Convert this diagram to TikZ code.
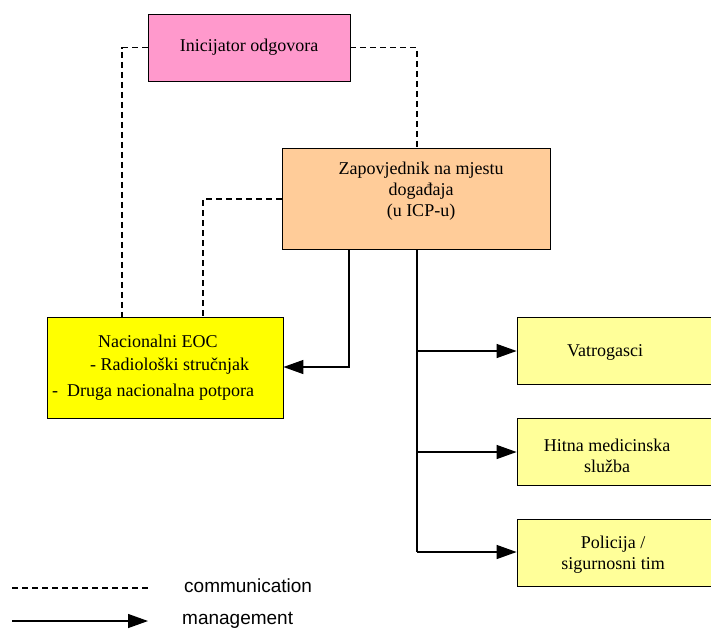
\documentclass[tikz,border=0pt]{standalone}
\usepackage{fontspec}
\setmainfont{Liberation Serif}
\newfontfamily\legendfont{Liberation Sans}
\usetikzlibrary{arrows.meta}
\definecolor{initpink}{HTML}{FF99CC}
\definecolor{cmdorange}{HTML}{FFCC99}
\definecolor{eocyellow}{HTML}{FFFF00}
\definecolor{teamyellow}{HTML}{FFFF99}
\tikzset{
  box/.style={draw=black, line width=0.8pt, inner sep=0pt, align=center, font=\fontsize{18}{21}\selectfont},
  boxtext/.style={inner sep=0pt, font=\fontsize{18}{21}\selectfont},
  comm/.style={draw=black, line width=1.3pt, dash pattern=on 6pt off 4pt},
  mgmt/.style={draw=black, line width=1.3pt, -{Triangle[length=20pt,width=14pt]}},
  legendtext/.style={inner sep=0pt, anchor=west, font=\legendfont\fontsize{19}{21}\selectfont}
}
\begin{document}
\begin{tikzpicture}[x=1pt, y=-1pt]
\path[use as bounding box, clip] (0,0) rectangle (711,630);
\fill[white] (0,0) rectangle (711,630);

% boxes
\node[box, fill=initpink, minimum width=202, minimum height=67] (init) at (249,47.5) {Inicijator odgovora};
\node[box, fill=cmdorange, minimum width=268, minimum height=101] (cmd) at (416,198.5) {};
\node[boxtext, align=center] (cmdtext) at (421,191) {Zapovjednik na mjestu\\događaja\\(u ICP-u)};
\node[box, fill=eocyellow, minimum width=236, minimum height=101] (eoc) at (165,367.5) {};
\node[boxtext, anchor=west] (eoc1) at (98,341) {Nacionalni EOC};
\node[boxtext, anchor=west] (eoc2) at (90,366) {- Radiološki stručnjak};
\node[boxtext, anchor=west] (eoc3) at (52,392) {- \ Druga nacionalna potpora};
\node[box, fill=teamyellow, minimum width=220, minimum height=67] (fire) at (627,350.5) {};
\node[boxtext] (firetext) at (605,352) {Vatrogasci};
\node[box, fill=teamyellow, minimum width=220, minimum height=67] (ems) at (627,451.5) {};
\node[boxtext, align=center] (emstext) at (607,456) {Hitna medicinska\\služba};
\node[box, fill=teamyellow, minimum width=220, minimum height=67] (police) at (627,552.5) {};
\node[boxtext, align=center] (policetext) at (613,555) {Policija /\\sigurnosni tim};

% communication links
\draw[comm] (init.west) -| (eoc.north -| 122,0);
\draw[comm] (init.east) -| (cmd.north -| 417,0);
\draw[comm] (cmd.west |- 0,199) -| (eoc.north -| 203,0);

% management links
\coordinate (bus) at (417,552);
\draw[mgmt] (cmd.south -| 349,0) |- (eoc.east |- 0,367);
\draw[line width=1.3pt] (cmd.south -| 417,0) -- (bus);
\draw[mgmt] (417,351) -- (fire.west |- 0,351);
\draw[mgmt] (417,452) -- (ems.west |- 0,452);
\draw[mgmt] (bus) -- (police.west |- bus);

% legend
\coordinate (c1) at (12,588);
\coordinate (c2) at (148,588);
\coordinate (m1) at (12,621);
\coordinate (m2) at (148,621);
\draw[comm, line width=1.1pt] (c1) -- (c2);
\draw[mgmt] (m1) -- (m2);
\node[legendtext] (commlabel) at (184,586) {communication};
\node[legendtext] (mgmtlabel) at (182,620) {management};
\end{tikzpicture}
\end{document}
